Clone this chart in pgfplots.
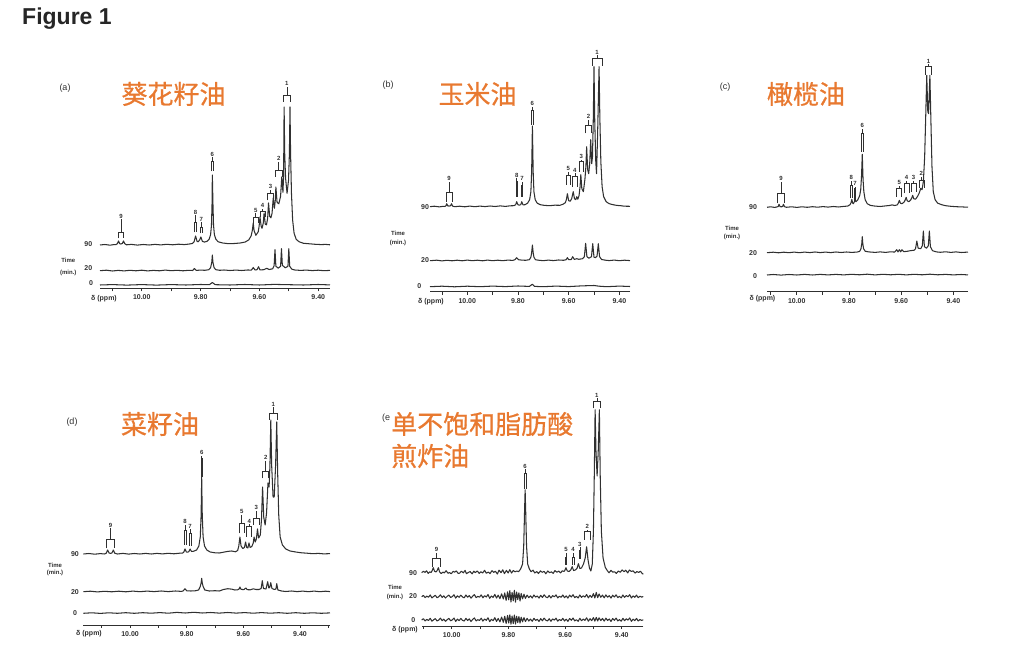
\documentclass[border=0pt]{standalone}
\usepackage{pgfplots}
\pgfplotsset{compat=1.18}
\usepackage{fontspec}
\setmainfont{Liberation Sans}
\newfontfamily\cjk{Noto Sans CJK SC}[FakeBold=0.7]
\definecolor{ink}{RGB}{48,48,48}
\definecolor{orangetxt}{RGB}{232,121,48}

\tikzset{
  trace/.style={ink, line width=1.05pt, mark=none, line join=round},
  brk/.style={ink, line width=0.65pt},
  plab/.style={font=\fontsize{6}{6}\selectfont\bfseries, text=ink, inner sep=0pt},
  side/.style={font=\fontsize{7}{7}\selectfont\bfseries, text=ink, inner sep=0pt},
  tmin/.style={font=\fontsize{6}{6}\selectfont\bfseries, text=ink, inner sep=0pt},
  panel/.style={font=\fontsize{9}{9}\selectfont, text=ink, inner sep=0pt},
  oil/.style={font=\cjk\fontsize{26}{28}\selectfont, text=orangetxt, inner sep=0pt},
}

\pgfplotsset{
  nmr/.style={
    scale only axis, x dir=reverse,
    ymin=0, ymax=200, height=200pt,
    axis x line*=bottom, axis y line=none,
    x axis line style={-, line width=0.9pt, ink},
    clip=false,
    xtick={10.0,9.8,9.6,9.4},
    minor xtick={10.1,9.9,9.7,9.5,9.3},
    tick align=outside, major tick length=3pt, minor tick length=3pt,
    tick style={line width=0.8pt, ink},
    xticklabel style={font=\fontsize{7}{7}\selectfont\bfseries, text=ink,
      /pgf/number format/.cd, fixed, fixed zerofill, precision=2, assume math mode=true},
  },
}

% label, centre, left leg, right leg, label y, bar y, leg end y
\newcommand\brk[7]{%
  \draw[brk] (axis cs:#3,#7) -- (axis cs:#3,#6) -- (axis cs:#4,#6) -- (axis cs:#4,#7);
  \draw[brk] (axis cs:#2,#6) -- ([yshift=-3.5pt]axis cs:#2,#5);
  \node[plab] at (axis cs:#2,#5) {#1};}

\begin{document}
\begin{tikzpicture}
\path[use as bounding box] (0,0) rectangle (1036pt,645pt);

\node[anchor=base west, inner sep=0pt, text=black!85, font=\fontsize{23}{23}\selectfont\bfseries] at (22pt,620pt) {Figure 1};

% ---------------- (a) sunflower oil
\begin{axis}[nmr, at={(100pt,356.7pt)}, anchor=south west, width=230pt, xmin=9.360, xmax=10.142]
\addplot[trace] coordinates {
(10.142,43.3) (10.125,43.8) (10.108,43.1) (10.095,43.7) (10.088,43.6) (10.083,44.6) (10.079,47.3) (10.075,44.6) (10.071,44.3) (10.066,44.8) (10.062,47.3) (10.058,44.6) (10.052,43.5)
(10.035,43.9) (10.015,43.2) (9.995,43.8) (9.975,43.3) (9.955,43.9) (9.935,43.4) (9.915,44.0) (9.895,43.5) (9.875,44.1) (9.855,43.7) (9.838,44.3)
(9.828,44.8) (9.822,46.5) (9.817,52.3) (9.812,47.0) (9.808,46.5) (9.803,48.5) (9.799,51.3) (9.794,47.0) (9.787,46.2)
(9.778,47.0) (9.771,49.0) (9.766,53.5) (9.763,63.0) (9.761,85.0) (9.760,113.3) (9.758,85.0) (9.756,63.0) (9.753,53.5) (9.748,49.0) (9.740,46.5) (9.725,45.3) (9.705,44.6) (9.685,44.8) (9.665,45.3) (9.648,46.3) (9.636,48.5)
(9.628,52.5) (9.624,58.0) (9.621,65.3) (9.618,57.5) (9.612,53.0) (9.604,56.5) (9.601,62.0) (9.598,71.3) (9.594,62.0) (9.591,60.0) (9.587,65.0) (9.584,75.3) (9.580,64.0) (9.576,63.5)
(9.572,70.0) (9.569,85.3) (9.565,72.0) (9.561,70.5) (9.557,75.0) (9.553,90.3) (9.549,80.0) (9.546,88.0) (9.544,101.3) (9.540,86.0) (9.534,84.5) (9.528,92.0) (9.524,111.3) (9.520,96.0)
(9.518,110.0) (9.517,140.0) (9.516,181.3) (9.514,135.0) (9.511,110.0) (9.506,95.0) (9.501,108.0) (9.498,135.0) (9.496,181.3) (9.494,135.0) (9.491,95.0) (9.487,68.0) (9.482,55.0) (9.475,49.0)
(9.465,46.5) (9.450,45.0) (9.430,44.5) (9.410,44.0) (9.390,43.7) (9.375,43.9) (9.360,43.5)};
\addplot[trace] coordinates {
(10.142,17.6) (10.12,18.1) (10.10,17.3) (10.08,17.9) (10.06,17.4) (10.04,18.0) (10.02,17.5) (10.00,18.1) (9.98,17.4) (9.96,17.9) (9.94,17.5) (9.92,18.2) (9.90,17.6) (9.88,18.0) (9.86,17.5) (9.84,18.0)
(9.827,17.8) (9.821,19.8) (9.815,17.9) (9.80,18.2) (9.785,18.0) (9.772,18.6) (9.766,20.5) (9.762,26.0) (9.760,33.3) (9.758,26.0) (9.754,20.5) (9.748,18.6) (9.735,18.0) (9.72,18.3) (9.70,17.8) (9.68,18.2) (9.66,17.8) (9.64,18.3)
(9.627,18.2) (9.621,20.8) (9.615,18.3) (9.608,18.6) (9.603,21.6) (9.598,18.4) (9.585,18.6) (9.575,20.0) (9.567,18.8) (9.555,19.5) (9.550,22.5) (9.547,38.6) (9.544,22.0) (9.536,20.2) (9.528,22.0) (9.525,39.6) (9.522,23.0)
(9.512,20.5) (9.503,22.0) (9.500,39.6) (9.497,22.0) (9.490,19.2) (9.48,18.3) (9.46,17.9) (9.44,18.2) (9.42,17.7) (9.40,18.1) (9.38,17.6) (9.36,17.9)};
\addplot[trace] coordinates {
(10.142,3.3) (10.10,3.7) (10.05,3.2) (10.00,3.7) (9.95,3.2) (9.90,3.7) (9.85,3.3) (9.80,3.8) (9.77,3.6) (9.760,5.8) (9.75,3.6) (9.70,3.3) (9.65,3.8) (9.60,3.3) (9.55,3.9) (9.50,3.6) (9.45,3.3) (9.40,3.8) (9.36,3.4)};
\brk{9}{10.0705}{10.079}{10.062}{72.3}{56.3}{50}
\brk{8}{9.817}{9.820}{9.814}{76.3}{66}{56}
\brk{7}{9.798}{9.801}{9.795}{69.3}{61}{55}
\brk{6}{9.760}{9.763}{9.757}{134.3}{127}{117}
\brk{5}{9.6125}{9.621}{9.604}{78.3}{71}{65}
\brk{4}{9.5895}{9.598}{9.581}{82.6}{76.6}{71.6}
\brk{3}{9.5625}{9.572}{9.553}{101.6}{95}{88}
\brk{2}{9.5345}{9.547}{9.522}{130}{118}{111.6}
\brk{1}{9.5065}{9.519}{9.494}{205}{193}{186.6}
\end{axis}

% ---------------- (b) corn oil
\begin{axis}[nmr, at={(430pt,353.3pt)}, anchor=south west, width=200pt, xmin=9.358, xmax=10.147]
\addplot[trace] coordinates {
(10.147,85.0) (10.13,85.5) (10.11,84.8) (10.095,85.4) (10.088,85.2) (10.084,86.0) (10.081,88.0) (10.077,85.8) (10.071,85.6) (10.066,86.0) (10.062,88.0) (10.058,85.6) (10.05,85.0)
(10.03,85.5) (10.01,84.9) (9.99,85.6) (9.97,85.0) (9.95,85.6) (9.93,85.1) (9.91,85.7) (9.89,85.2) (9.87,85.8) (9.85,85.3) (9.83,85.9)
(9.816,86.0) (9.809,87.0) (9.805,90.0) (9.800,87.0) (9.795,86.5) (9.789,87.0) (9.785,90.0) (9.780,86.8) (9.772,87.0)
(9.762,88.5) (9.754,92.0) (9.749,100.0) (9.746,120.0) (9.743,165.7) (9.740,120.0) (9.737,100.0) (9.732,92.0) (9.724,88.5) (9.712,87.0) (9.695,86.3) (9.675,86.0) (9.655,86.5) (9.635,86.4)
(9.622,87.5) (9.613,89.0) (9.609,92.0) (9.605,98.0) (9.600,91.0) (9.594,90.5) (9.588,93.0) (9.582,100.0) (9.577,93.0) (9.572,92.0) (9.568,95.0) (9.564,92.5) (9.559,96.0) (9.555,105.0) (9.552,117.0) (9.548,103.0)
(9.542,100.0) (9.536,112.0) (9.532,125.0) (9.529,145.0) (9.525,122.0) (9.521,118.0) (9.517,128.0) (9.513,152.0) (9.509,128.0) (9.506,135.0) (9.503,170.0) (9.500,225.0) (9.497,170.0) (9.493,130.0) (9.490,118.0)
(9.486,155.0) (9.483,190.0) (9.480,225.0) (9.477,175.0) (9.473,130.0) (9.468,105.0) (9.462,95.0) (9.452,90.0) (9.44,88.0) (9.425,87.0) (9.41,86.3) (9.395,86.0) (9.38,85.5) (9.358,85.4)};
\addplot[trace] coordinates {
(10.147,31.0) (10.12,31.5) (10.10,30.8) (10.08,31.4) (10.06,30.9) (10.04,31.5) (10.02,30.9) (10.00,31.6) (9.98,31.0) (9.96,31.5) (9.94,30.9) (9.92,31.6) (9.90,31.0) (9.88,31.5) (9.86,31.0) (9.84,31.6)
(9.82,31.3) (9.812,32.0) (9.805,34.0) (9.798,32.0) (9.785,31.6) (9.77,31.4) (9.755,32.0) (9.749,34.5) (9.746,39.0) (9.743,46.7) (9.740,39.0) (9.737,34.5) (9.731,32.0) (9.72,31.5) (9.70,31.0) (9.68,31.6) (9.66,31.1) (9.64,31.7)
(9.62,31.4) (9.610,32.0) (9.605,34.0) (9.600,32.0) (9.59,32.2) (9.584,35.0) (9.578,32.3) (9.568,33.0) (9.560,32.4) (9.545,33.0) (9.538,35.0) (9.533,48.4) (9.528,35.0) (9.520,33.5) (9.510,35.0) (9.505,48.0) (9.500,34.5)
(9.494,34.0) (9.488,35.5) (9.483,48.0) (9.478,35.0) (9.470,32.2) (9.455,31.5) (9.44,31.1) (9.42,31.6) (9.40,31.0) (9.38,31.5) (9.358,31.1)};
\addplot[trace] coordinates {
(10.147,5.0) (10.10,5.5) (10.05,4.9) (10.00,5.5) (9.95,5.0) (9.90,5.6) (9.85,5.1) (9.80,5.7) (9.755,5.3) (9.743,7.5) (9.735,5.3) (9.70,5.0) (9.65,5.6) (9.60,5.1) (9.55,5.8) (9.50,6.2) (9.48,5.5) (9.45,5.0) (9.40,5.6) (9.358,5.2)};
\brk{9}{10.0715}{10.084}{10.059}{113.4}{99}{90}
\brk{8}{9.805}{9.808}{9.802}{116.7}{110}{95}
\brk{7}{9.784}{9.787}{9.781}{113.4}{106}{95}
\brk{6}{9.743}{9.746}{9.740}{188.4}{181.7}{166.7}
\brk{5}{9.601}{9.610}{9.592}{123.4}{116.7}{106.7}
\brk{4}{9.5755}{9.585}{9.566}{121.7}{115}{105}
\brk{3}{9.550}{9.558}{9.542}{135}{130}{120}
\brk{2}{9.522}{9.535}{9.509}{175}{166.7}{158.4}
\brk{1}{9.4885}{9.508}{9.469}{239.7}{233.7}{225.7}
\end{axis}

% ---------------- (c) olive oil
\begin{axis}[nmr, at={(767pt,353.3pt)}, anchor=south west, width=201pt, xmin=9.344, xmax=10.114]
\addplot[trace] coordinates {
(10.114,84.4) (10.10,84.9) (10.085,84.3) (10.075,84.8) (10.071,85.2) (10.068,87.4) (10.064,85.0) (10.058,84.9) (10.054,85.3) (10.051,87.4) (10.047,85.0) (10.04,84.4)
(10.02,84.9) (10.00,84.3) (9.98,84.9) (9.96,84.4) (9.94,85.0) (9.92,84.5) (9.90,85.1) (9.88,84.6) (9.86,85.2) (9.84,84.7) (9.82,85.3)
(9.805,85.6) (9.796,87.0) (9.792,89.0) (9.789,92.4) (9.786,88.5) (9.783,88.0) (9.780,89.5) (9.777,91.4) (9.773,90.0) (9.766,92.0) (9.759,96.0) (9.755,102.0) (9.752,115.0) (9.749,137.4) (9.746,112.0) (9.743,100.0) (9.738,92.0) (9.730,88.0)
(9.718,86.3) (9.70,85.6) (9.68,85.2) (9.66,85.8) (9.645,86.2) (9.635,86.8) (9.625,86.2) (9.615,86.8) (9.611,88.5) (9.607,91.4) (9.603,88.5) (9.597,88.0) (9.589,89.5) (9.584,92.0) (9.581,94.4) (9.577,91.0) (9.571,90.0)
(9.564,91.5) (9.559,94.0) (9.556,96.4) (9.552,93.0) (9.545,92.5) (9.538,95.0) (9.531,98.5) (9.525,103.4) (9.520,102.0) (9.515,110.0) (9.510,135.0) (9.506,175.0) (9.502,216.4) (9.498,180.0) (9.495,178.0) (9.490,216.4)
(9.486,170.0) (9.482,125.0) (9.477,100.0) (9.470,92.0) (9.460,88.5) (9.445,87.0) (9.43,86.0) (9.41,85.4) (9.39,85.0) (9.37,84.8) (9.344,84.5)};
\addplot[trace] coordinates {
(10.114,39.0) (10.09,39.5) (10.07,38.9) (10.05,39.5) (10.03,39.0) (10.01,39.6) (9.99,39.0) (9.97,39.6) (9.95,39.1) (9.93,39.7) (9.91,39.1) (9.89,39.6) (9.87,39.1) (9.85,39.7) (9.83,39.2) (9.81,39.7) (9.79,39.3) (9.77,39.6)
(9.759,40.3) (9.754,43.0) (9.751,48.0) (9.749,55.0) (9.747,48.0) (9.744,43.0) (9.738,40.5) (9.725,39.8) (9.70,39.3) (9.68,39.8) (9.66,39.3) (9.64,39.9)
(9.625,39.6) (9.617,42.0) (9.612,39.8) (9.607,42.0) (9.602,39.9) (9.597,42.0) (9.590,40.0) (9.575,40.5) (9.565,41.0) (9.550,41.5) (9.545,43.0) (9.540,50.7) (9.535,43.5) (9.525,43.0) (9.519,46.0) (9.515,60.7) (9.511,45.0)
(9.503,43.5) (9.496,46.0) (9.492,60.7) (9.488,45.0) (9.480,41.0) (9.465,39.8) (9.45,39.4) (9.43,39.9) (9.41,39.3) (9.39,39.8) (9.37,39.2) (9.344,39.6)};
\addplot[trace] coordinates {
(10.114,16.7) (10.09,17.2) (10.06,16.6) (10.03,17.2) (10.00,16.7) (9.97,17.3) (9.94,16.7) (9.91,17.3) (9.88,16.8) (9.85,17.3) (9.82,16.8) (9.79,17.4) (9.76,16.9) (9.73,17.5)
(9.70,16.8) (9.67,17.4) (9.64,16.9) (9.61,17.4) (9.58,16.8) (9.55,17.4) (9.52,16.9) (9.49,17.5) (9.46,16.9) (9.43,17.3) (9.40,16.8) (9.37,17.2) (9.344,16.8)};
\brk{9}{10.060}{10.073}{10.047}{113.4}{98.4}{88.4}
\brk{8}{9.791}{9.794}{9.788}{114.4}{106.7}{93.4}
\brk{7}{9.777}{9.780}{9.774}{108.4}{103}{91}
\brk{6}{9.749}{9.752}{9.746}{166}{158.4}{140}
\brk{5}{9.6075}{9.617}{9.598}{109.4}{103.4}{95}
\brk{4}{9.579}{9.589}{9.569}{114.4}{108.4}{98.4}
\brk{3}{9.5525}{9.562}{9.543}{114.4}{108.4}{100}
\brk{2}{9.5225}{9.532}{9.513}{118.4}{111.7}{103.4}
\brk{1}{9.4955}{9.508}{9.483}{230.7}{225.7}{216.7}
\end{axis}

% ---------------- (d) rapeseed oil
\begin{axis}[nmr, at={(83.3pt,20pt)}, anchor=south west, width=246.7pt, xmin=9.294, xmax=10.165]
\addplot[trace] coordinates {
(10.165,71.0) (10.145,71.5) (10.125,70.8) (10.105,71.4) (10.090,71.0) (10.084,71.8) (10.079,75.0) (10.074,72.0) (10.069,71.6) (10.064,72.0) (10.059,75.0) (10.054,71.8) (10.045,71.0)
(10.025,71.6) (10.005,70.9) (9.985,71.5) (9.965,71.0) (9.945,71.6) (9.925,71.0) (9.905,71.6) (9.885,71.1) (9.865,71.7) (9.845,71.2) (9.825,71.8)
(9.814,72.0) (9.810,73.0) (9.806,76.0) (9.801,73.0) (9.796,72.8) (9.792,73.5) (9.788,76.0) (9.783,73.5) (9.775,73.8) (9.765,75.0) (9.757,79.0) (9.752,88.0) (9.749,110.0) (9.747,148.0) (9.745,110.0) (9.742,88.0) (9.737,79.0) (9.729,75.0)
(9.717,73.0) (9.70,72.2) (9.685,72.0) (9.67,72.8) (9.655,73.6) (9.641,74.0) (9.628,73.2) (9.620,74.5) (9.616,79.0) (9.612,88.0) (9.608,79.0) (9.602,76.5) (9.596,77.5) (9.592,83.0) (9.588,77.5) (9.584,77.0) (9.580,82.0) (9.576,77.5)
(9.570,78.5) (9.565,82.0) (9.562,88.0) (9.558,83.0) (9.554,86.0) (9.550,96.0) (9.546,87.0) (9.540,90.0) (9.536,105.0) (9.532,138.0) (9.528,108.0) (9.523,100.0) (9.518,112.0) (9.513,142.0) (9.509,138.0)
(9.506,160.0) (9.503,205.0) (9.500,160.0) (9.495,128.0) (9.491,128.0) (9.486,160.0) (9.482,203.0) (9.479,155.0) (9.475,110.0) (9.470,88.0) (9.462,80.0) (9.450,76.0) (9.435,74.0) (9.415,73.0) (9.395,72.2)
(9.375,71.8) (9.355,71.3) (9.335,71.6) (9.315,71.1) (9.294,71.4)};
\addplot[trace] coordinates {
(10.165,33.3) (10.14,33.8) (10.115,33.1) (10.09,33.7) (10.065,33.2) (10.04,33.8) (10.015,33.2) (9.99,33.9) (9.965,33.3) (9.94,33.9) (9.915,33.4) (9.89,34.0) (9.865,33.4) (9.84,34.0)
(9.818,33.6) (9.812,34.2) (9.806,36.3) (9.800,34.2) (9.785,34.0) (9.77,34.2) (9.758,35.0) (9.752,38.5) (9.749,42.0) (9.747,46.7) (9.745,42.0) (9.742,38.5) (9.736,35.0) (9.72,34.0) (9.70,34.3) (9.685,34.0)
(9.67,35.5) (9.655,36.3) (9.64,35.8) (9.63,35.0) (9.620,35.2) (9.615,36.0) (9.612,38.0) (9.608,35.6) (9.598,35.4) (9.591,37.0) (9.586,35.3) (9.575,35.2) (9.565,36.2) (9.555,35.5) (9.545,35.5)
(9.537,36.5) (9.533,44.3) (9.529,36.5) (9.520,36.0) (9.514,43.3) (9.510,37.0) (9.507,37.5) (9.503,42.3) (9.499,36.5) (9.490,35.5) (9.485,36.0) (9.482,41.3) (9.478,35.0) (9.465,34.0) (9.45,33.5)
(9.43,34.0) (9.41,33.4) (9.39,33.9) (9.37,33.3) (9.35,33.9) (9.33,33.3) (9.31,33.8) (9.294,33.4)};
\addplot[trace] coordinates {
(10.165,11.7) (10.135,12.2) (10.105,11.6) (10.075,12.2) (10.045,11.7) (10.015,12.3) (9.985,11.7) (9.955,12.3) (9.925,11.8) (9.895,12.4) (9.865,11.8) (9.835,12.6) (9.805,12.0) (9.775,12.7) (9.745,12.0)
(9.715,12.5) (9.685,11.9) (9.655,12.5) (9.625,11.9) (9.595,12.4) (9.565,11.8) (9.535,12.4) (9.505,11.8) (9.475,12.3) (9.445,11.7) (9.415,12.3) (9.385,11.7) (9.355,12.2) (9.325,11.7) (9.294,12.1)};
\brk{9}{10.069}{10.082}{10.056}{100}{85.7}{76.7}
\brk{8}{9.806}{9.809}{9.803}{103.3}{95}{80}
\brk{7}{9.788}{9.791}{9.785}{99}{92}{79}
\brk{6}{9.747}{9.750}{9.744}{172.3}{166.7}{148.3}
\brk{5}{9.6055}{9.614}{9.597}{113.3}{101.7}{91.7}
\brk{4}{9.579}{9.588}{9.570}{104}{98.3}{88.3}
\brk{3}{9.5545}{9.565}{9.544}{117.7}{106.7}{100}
\brk{2}{9.521}{9.532}{9.510}{167.3}{153.3}{146.7}
\brk{1}{9.494}{9.508}{9.480}{221}{211.7}{205}
\end{axis}

% ---------------- (e) high-oleic frying oil
\begin{axis}[nmr, at={(421.7pt,19pt)}, anchor=south west, width=221.6pt, xmin=9.324, xmax=10.106]
\addplot[trace] coordinates {
(10.106,53.3) (10.100,54.8) (10.094,53.6) (10.089,55.2) (10.083,52.6) (10.078,54.1) (10.073,53.5) (10.069,55.4) (10.065,58.3) (10.061,54.9) (10.056,54.0) (10.052,55.2) (10.047,58.3) (10.043,54.2)
(10.037,52.4) (10.031,53.9) (10.026,53.1) (10.020,55.3) (10.013,52.7) (10.008,53.5) (10.002,52.2) (9.995,54.6) (9.990,53.8) (9.984,55.1) (9.977,52.5) (9.972,52.9) (9.966,54.7) (9.959,53.2)
(9.953,55.6) (9.948,52.3) (9.941,53.6) (9.935,54.4) (9.928,52.1) (9.922,54.9) (9.917,53.4) (9.910,55.0) (9.903,52.6) (9.897,54.2) (9.891,53.0) (9.884,55.7) (9.878,52.8) (9.871,53.9) (9.865,52.4)
(9.858,55.3) (9.852,53.6) (9.846,54.8) (9.839,52.0) (9.833,55.8) (9.826,53.3) (9.820,56.2) (9.814,52.4) (9.807,55.6) (9.801,53.0) (9.795,56.3) (9.789,52.9) (9.783,55.5) (9.777,54.2) (9.770,55.0)
(9.764,54.3) (9.757,57.0) (9.750,62.0) (9.746,80.0) (9.743,115.0) (9.741,136.3) (9.739,115.0) (9.736,80.0) (9.732,62.0) (9.726,57.0) (9.720,54.3) (9.713,55.8) (9.707,53.0) (9.700,54.4)
(9.694,52.5) (9.687,55.1) (9.681,53.7) (9.674,54.6) (9.668,52.2) (9.661,55.0) (9.655,53.4) (9.648,54.1) (9.642,52.6) (9.636,55.4) (9.629,53.8) (9.622,54.9) (9.616,53.1) (9.610,55.2) (9.604,54.6)
(9.601,55.5) (9.597,58.3) (9.592,55.0) (9.586,54.5) (9.580,56.0) (9.575,59.3) (9.570,55.5) (9.564,56.0) (9.558,57.5) (9.553,62.3) (9.548,57.5) (9.542,58.0) (9.535,62.0) (9.529,68.0) (9.524,79.3)
(9.519,66.0) (9.514,58.0) (9.509,55.0) (9.504,62.0) (9.500,95.0) (9.497,150.0) (9.494,216.3) (9.491,175.0) (9.487,150.0) (9.483,175.0) (9.479,216.3) (9.476,150.0) (9.472,95.0) (9.466,68.0)
(9.458,58.5) (9.451,55.4) (9.445,53.2) (9.438,55.6) (9.432,53.9) (9.425,54.2) (9.419,52.6) (9.412,55.0) (9.405,53.7) (9.399,56.1) (9.392,54.3) (9.386,55.8) (9.379,53.1) (9.373,56.0) (9.366,54.5)
(9.360,55.2) (9.353,52.9) (9.347,54.4) (9.340,53.6) (9.334,54.8) (9.328,52.5) (9.324,51.8)};
\addplot[trace] coordinates {
(10.106,29.3) (10.100,30.6) (10.094,28.4) (10.088,29.9) (10.082,28.8) (10.076,31.0) (10.070,28.1) (10.064,29.5) (10.058,30.7) (10.052,28.3) (10.046,29.2) (10.040,31.2) (10.034,28.6) (10.028,30.1)
(10.022,28.0) (10.016,29.7) (10.010,30.9) (10.004,28.5) (9.998,29.4) (9.992,31.3) (9.986,27.9) (9.980,30.2) (9.974,28.7) (9.968,30.8) (9.962,29.0) (9.956,28.2) (9.950,31.0) (9.944,28.8)
(9.938,30.4) (9.932,27.8) (9.926,29.9) (9.920,31.4) (9.914,28.4) (9.908,29.6) (9.902,28.9) (9.896,31.1) (9.890,28.2) (9.884,30.3) (9.878,29.0) (9.872,31.5) (9.866,27.7) (9.860,30.0) (9.854,28.6)
(9.848,31.6) (9.842,27.9) (9.836,30.9) (9.830,27.4) (9.824,32.2) (9.818,27.0) (9.813,33.0) (9.808,25.6) (9.803,34.2) (9.799,26.2) (9.795,35.4) (9.791,24.0) (9.787,33.6) (9.783,25.2) (9.779,35.8)
(9.775,23.8) (9.771,34.0) (9.767,26.5) (9.763,33.2) (9.759,25.0) (9.755,32.5) (9.750,27.2) (9.745,31.8) (9.740,27.6) (9.734,30.9) (9.728,28.3) (9.722,30.2) (9.716,28.0) (9.710,31.0) (9.704,28.9)
(9.698,30.0) (9.692,27.9) (9.686,30.7) (9.680,28.5) (9.674,31.2) (9.668,29.1) (9.662,28.3) (9.656,30.6) (9.650,28.0) (9.644,30.4) (9.638,29.2) (9.632,31.1) (9.626,28.1) (9.620,29.8) (9.614,28.7)
(9.608,31.0) (9.602,28.3) (9.596,30.1) (9.590,27.9) (9.584,30.8) (9.578,29.0) (9.572,31.3) (9.566,28.4) (9.560,29.6) (9.554,28.0) (9.548,31.0) (9.542,28.6) (9.536,30.2) (9.530,28.9) (9.524,31.5)
(9.518,28.1) (9.512,30.6) (9.506,28.6) (9.500,32.4) (9.495,28.0) (9.490,33.6) (9.485,28.3) (9.480,32.0) (9.474,28.7) (9.468,30.9) (9.462,28.2) (9.456,31.1) (9.450,28.8) (9.444,30.3) (9.438,27.9)
(9.432,30.8) (9.426,29.0) (9.420,31.2) (9.414,28.4) (9.408,29.7) (9.402,28.1) (9.396,31.0) (9.390,28.6) (9.384,30.5) (9.378,29.2) (9.372,31.3) (9.366,28.0) (9.360,30.1) (9.354,28.7) (9.348,30.9)
(9.342,28.3) (9.336,29.8) (9.330,28.9) (9.324,29.5)};
\addplot[trace] coordinates {
(10.106,6.0) (10.100,7.3) (10.094,5.1) (10.088,6.6) (10.082,5.5) (10.076,7.7) (10.070,4.8) (10.064,6.2) (10.058,7.4) (10.052,5.0) (10.046,5.9) (10.040,7.9) (10.034,5.3) (10.028,6.8)
(10.022,4.7) (10.016,6.4) (10.010,7.6) (10.004,5.2) (9.998,6.1) (9.992,8.0) (9.986,4.6) (9.980,6.9) (9.974,5.4) (9.968,7.5) (9.962,5.7) (9.956,4.9) (9.950,7.7) (9.944,5.5) (9.938,7.1)
(9.932,4.5) (9.926,6.6) (9.920,8.1) (9.914,5.1) (9.908,6.3) (9.902,5.6) (9.896,7.8) (9.890,4.9) (9.884,7.0) (9.878,5.7) (9.872,8.2) (9.866,4.4) (9.860,6.7) (9.854,5.3) (9.848,8.3) (9.842,4.6)
(9.836,7.6) (9.830,4.1) (9.824,8.9) (9.818,3.7) (9.813,9.7) (9.808,2.6) (9.803,10.6) (9.799,3.0) (9.795,11.2) (9.791,1.8) (9.787,10.0) (9.783,2.4) (9.779,11.0) (9.775,2.0) (9.771,9.8) (9.767,3.4)
(9.763,9.4) (9.759,3.0) (9.755,8.8) (9.750,4.2) (9.745,8.4) (9.740,4.5) (9.734,7.6) (9.728,5.0) (9.722,6.9) (9.716,4.7) (9.710,7.7) (9.704,5.6) (9.698,6.7) (9.692,4.6) (9.686,7.4) (9.680,5.2)
(9.674,7.9) (9.668,5.8) (9.662,5.0) (9.656,7.3) (9.650,4.7) (9.644,7.1) (9.638,5.9) (9.632,7.8) (9.626,4.8) (9.620,6.5) (9.614,5.4) (9.608,7.7) (9.602,5.0) (9.596,6.8) (9.590,4.6) (9.584,7.5)
(9.578,5.7) (9.572,8.0) (9.566,5.1) (9.560,6.3) (9.554,4.7) (9.548,7.7) (9.542,5.3) (9.536,6.9) (9.530,5.6) (9.524,8.2) (9.518,4.8) (9.512,7.3) (9.506,5.3) (9.500,8.4) (9.495,4.9) (9.490,8.6)
(9.485,5.0) (9.480,8.2) (9.474,5.4) (9.468,7.6) (9.462,4.9) (9.456,7.8) (9.450,5.5) (9.444,7.0) (9.438,4.6) (9.432,7.5) (9.426,5.7) (9.420,7.9) (9.414,5.1) (9.408,6.4) (9.402,4.8) (9.396,7.7)
(9.390,5.3) (9.384,7.2) (9.378,5.9) (9.372,8.0) (9.366,4.7) (9.360,6.8) (9.354,5.4) (9.348,7.6) (9.342,5.0) (9.336,6.5) (9.330,5.6) (9.324,6.2)};
\brk{9}{10.054}{10.067}{10.041}{76.7}{67.7}{59.3}
\brk{6}{9.741}{9.744}{9.738}{160}{153}{137}
\brk{5}{9.597}{9.600}{9.594}{76.7}{69}{61}
\brk{4}{9.572}{9.575}{9.569}{76.7}{69}{61}
\brk{3}{9.548}{9.551}{9.545}{82}{76}{67}
\brk{2}{9.522}{9.532}{9.512}{99.3}{94.3}{86}
\brk{1}{9.488}{9.502}{9.474}{231}{224.3}{217.7}
\end{axis}

% ---------------- side labels
\foreach \px/\py/\txt in {65/557/(a), 388/560/(b), 725/558/(c), 72/223/(d), 386/227/(e}
  \node[panel] at (\px pt,\py pt) {\txt};

\node[side] at (88.3pt,401pt) {90};
\node[tmin] at (68.3pt,384.3pt) {Time};
\node[tmin] at (68.3pt,372.3pt) {(min.)};
\node[side] at (88.3pt,376.7pt) {20};
\node[side] at (91pt,361.7pt) {0};
\node[side] at (104pt,346.7pt) {δ (ppm)};

\node[side] at (425pt,438pt) {90};
\node[tmin] at (398pt,412pt) {Time};
\node[tmin] at (398pt,402pt) {(min.)};
\node[side] at (425pt,385pt) {20};
\node[side] at (419.3pt,359.3pt) {0};
\node[side] at (431pt,343.3pt) {δ (ppm)};

\node[side] at (753pt,438pt) {90};
\node[tmin] at (732pt,417pt) {Time};
\node[tmin] at (732pt,408pt) {(min.)};
\node[side] at (753pt,392pt) {20};
\node[side] at (755pt,369.3pt) {0};
\node[side] at (762.5pt,346.7pt) {δ (ppm)};

\node[side] at (75pt,91pt) {90};
\node[tmin] at (55pt,80pt) {Time};
\node[tmin] at (55pt,71.7pt) {(min.)};
\node[side] at (75pt,53pt) {20};
\node[side] at (75pt,31.7pt) {0};
\node[side] at (89pt,11.7pt) {δ (ppm)};

\node[side] at (413pt,72pt) {90};
\node[tmin] at (395pt,58pt) {Time};
\node[tmin] at (395pt,48pt) {(min.)};
\node[side] at (413pt,49pt) {20};
\node[side] at (413.3pt,25pt) {0};
\node[side] at (405pt,15pt) {δ (ppm)};

% ---------------- oil names
\node[oil] at (173.5pt,551pt) {葵花籽油};
\node[oil] at (477.5pt,551pt) {玉米油};
\node[oil] at (806pt,551pt) {橄榄油};
\node[oil] at (160pt,221pt) {菜籽油};
\node[oil, anchor=west] at (391pt,221pt) {单不饱和脂肪酸};
\node[oil, anchor=west] at (391pt,189pt) {煎炸油};
\end{tikzpicture}
\end{document}
